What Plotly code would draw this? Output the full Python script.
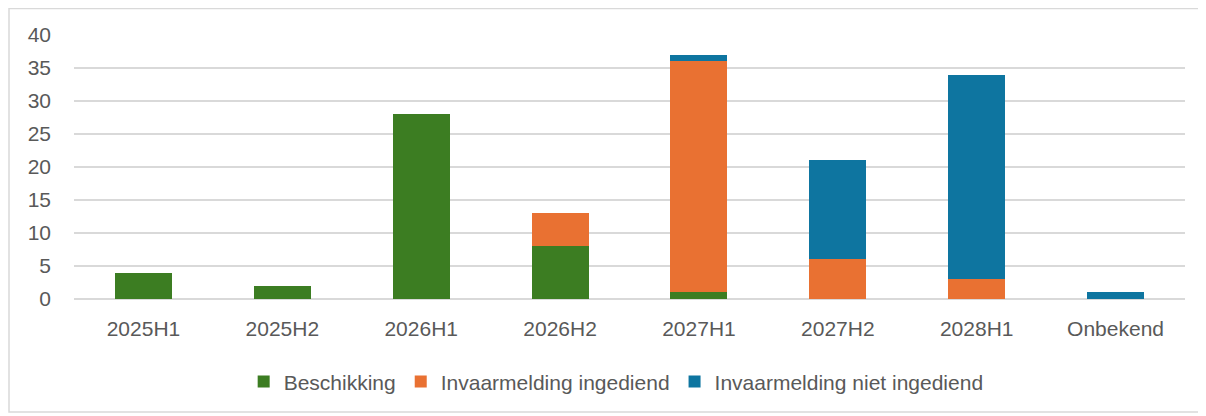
import plotly.graph_objects as go

periods = ["2025H1", "2025H2", "2026H1", "2026H2", "2027H1", "2027H2", "2028H1", "Onbekend"]
beschikking = [4, 2, 28, 8, 1, 0, 0, 0]
ingediend = [0, 0, 0, 5, 35, 6, 3, 0]
niet_ingediend = [0, 0, 0, 0, 1, 15, 31, 1]

series = [
    ("Beschikking", beschikking, "#3C7D22"),
    ("Invaarmelding ingediend", ingediend, "#E97132"),
    ("Invaarmelding niet ingediend", niet_ingediend, "#0E75A0"),
]

fig = go.Figure()
for name, vals, color in series:
    fig.add_trace(go.Bar(
        x=periods, y=vals, name=name,
        marker=dict(color=color, line=dict(width=0)),
        width=0.41,
    ))

# chart area border (Excel style)
fig.add_shape(
    type="rect", xref="paper", yref="paper",
    x0=-0.0585, x1=1.0162, y0=-0.428, y1=1.100,
    line=dict(color="#D9D9D9", width=1.5), fillcolor="rgba(0,0,0,0)",
    layer="below",
)

# page body has an 8px margin, so figure is sized/offset to compensate
fig.update_layout(
    barmode="stack",
    width=1198, height=408,
    paper_bgcolor="white", plot_bgcolor="white",
    font=dict(family="Liberation Sans, Arial, sans-serif", color="#595959", size=21),
    margin=dict(l=66, r=21, t=27, b=117),
    xaxis=dict(showgrid=False, showline=False, ticks="", tickfont=dict(size=21),
               ticklabelstandoff=15),
    yaxis=dict(
        range=[0, 40], dtick=5, gridcolor="#D9D9D9", gridwidth=1.5,
        zeroline=True, zerolinecolor="#D9D9D9", zerolinewidth=1.5,
        showline=False, ticks="", ticklabelstandoff=22, tickfont=dict(size=21),
    ),
    legend=dict(
        orientation="h", x=0.488, xanchor="center", y=-0.314, yanchor="middle",
        font=dict(size=21), itemwidth=30, traceorder="normal",
    ),
    bargap=0.59,
)

fig.write_html("out.html")
